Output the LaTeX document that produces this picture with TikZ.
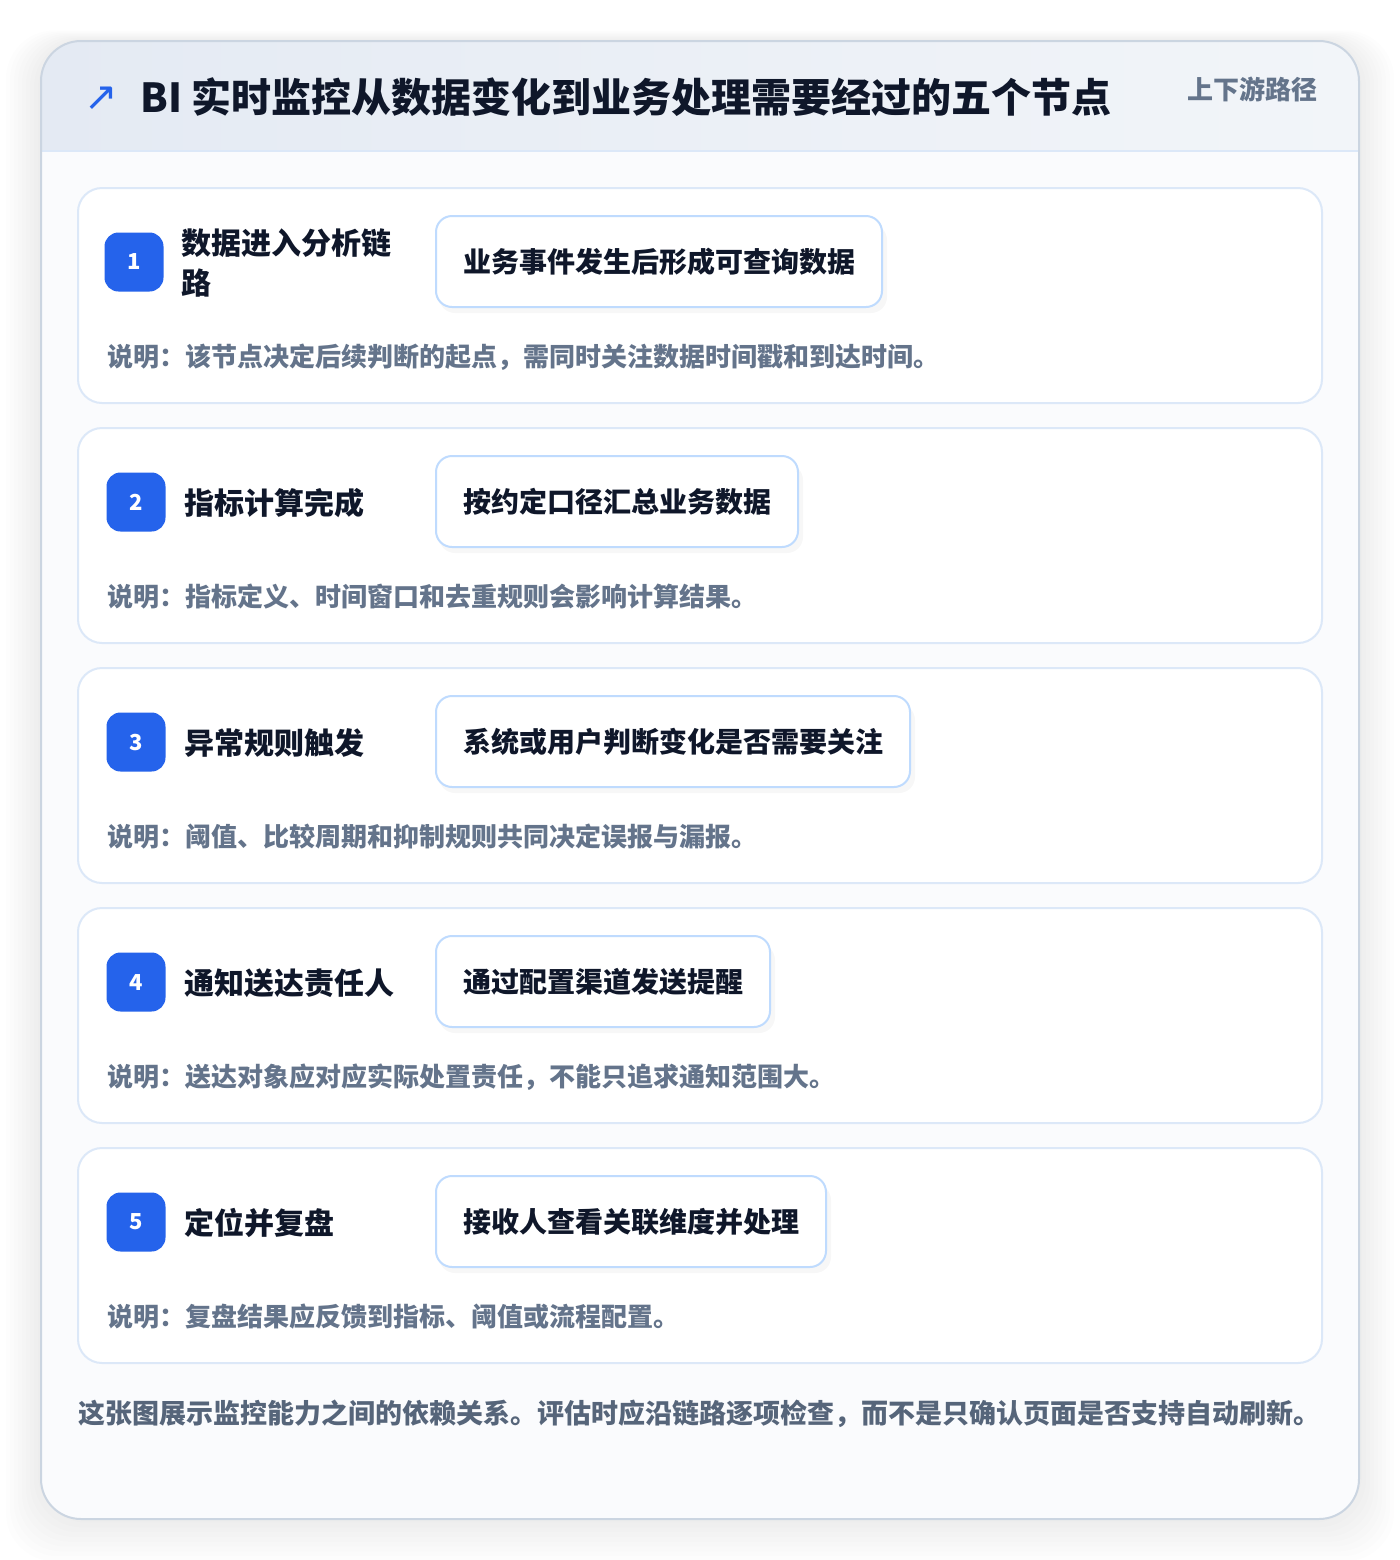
\documentclass[tikz,border=0pt]{standalone}
\usepackage{fontspec}
\setmainfont{Noto Sans CJK SC}
\newfontfamily\symfont{DejaVu Sans}
\usetikzlibrary{positioning}
\usetikzlibrary{shapes}
\usetikzlibrary{calc}
\usepackage{xcolor}

\definecolor{ink}{HTML}{0F172A}
\definecolor{muted}{HTML}{64748B}
\definecolor{foot}{HTML}{56657A}
\definecolor{brand}{HTML}{2563EB}
\definecolor{cardline}{HTML}{DCE8F8}
\definecolor{boxline}{HTML}{BFDBFE}
\definecolor{panelline}{HTML}{CBD5E1}
\definecolor{headL}{HTML}{E4EAF3}
\definecolor{headR}{HTML}{F2F5F9}

\begin{document}
\begin{tikzpicture}[x=0.5pt, y=-0.5pt,
    every node/.style={inner sep=0pt},
    card/.style={draw=cardline, line width=1pt, fill=white, rounded corners=12pt,
        minimum width=622pt, minimum height=107.5pt},
    badge/.style={fill=brand, text=white, rounded corners=7pt, minimum size=29.5pt,
        font=\fontsize{11}{13}\selectfont\bfseries},
    lbl/.style={anchor=west, text=ink, align=left, font=\fontsize{15}{20}\selectfont\bfseries},
    box/.style={anchor=west, draw=boxline, line width=1pt, fill=white, rounded corners=8pt,
        minimum height=45.5pt, inner xsep=13.5pt, text=ink,
        font=\fontsize{14}{17}\selectfont\bfseries},
    note/.style={anchor=west, text=muted, font=\fontsize{13}{16}\selectfont\bfseries}]

    \useasboundingbox (0,0) rectangle (1400,1560);

    % panel shadow
    \foreach \d in {3,7,...,35}
        \fill[black, opacity=0.007, rounded corners=24pt]
            ($(41,41)+(-\d,-0.3*\d)$) rectangle ($(1359,1519)+(\d,1.2*\d)$);

    % panel and header
    \fill[white, rounded corners=20pt] (41,41) rectangle (1359,1519);
    \begin{scope}
        \clip[rounded corners=20pt] (41,41) rectangle (1359,1519);
        \shade[left color=headL, right color=headR] (41,41) rectangle (1359,151);
        \fill[white!60!headR] (41,151) rectangle (1359,1519);
    \end{scope}
    \draw[cardline, line width=1pt] (41,151) -- (1359,151);
    \draw[panelline, line width=1pt, rounded corners=20pt] (41,41) rectangle (1359,1519);

    \node[text=brand, font=\fontsize{20}{22}\selectfont\symfont] (arrow) at (101,99) {↗};
    \node[anchor=west, text=ink, font=\fontsize{20}{24}\selectfont\bfseries] (title) at (140,97)
        {BI 实时监控从数据变化到业务处理需要经过的五个节点};
    \node[anchor=east, text=muted, font=\fontsize{13}{16}\selectfont\bfseries] (path) at (1318,89)
        {上下游路径};

    % step 1
    \node[card] (card1) at (700,295.5) {};
    \node[badge] (b1) at (134,262) {1};
    \node[lbl] (l1) at (181,263) {数据进入分析链\\路};
    \fill[black, opacity=0.03, rounded corners=8pt] (439,224) rectangle (887,313);
    \node[box] (x1) at (435,261.5) {业务事件发生后形成可查询数据};
    \node[note] (n1) at (107,357) {说明：该节点决定后续判断的起点，需同时关注数据时间戳和到达时间。};

    % step 2
    \node[card] (card2) at (700,535.5) {};
    \node[badge] (b2) at (136,502) {2};
    \node[lbl] (l2) at (184,503) {指标计算完成};
    \fill[black, opacity=0.03, rounded corners=8pt] (439,464) rectangle (803,553);
    \node[box] (x2) at (435,501.5) {按约定口径汇总业务数据};
    \node[note] (n2) at (107,597) {说明：指标定义、时间窗口和去重规则会影响计算结果。};

    % step 3
    \node[card] (card3) at (700,775.5) {};
    \node[badge] (b3) at (136,742) {3};
    \node[lbl] (l3) at (184,743) {异常规则触发};
    \fill[black, opacity=0.03, rounded corners=8pt] (439,704) rectangle (915,793);
    \node[box] (x3) at (435,741.5) {系统或用户判断变化是否需要关注};
    \node[note] (n3) at (107,837) {说明：阈值、比较周期和抑制规则共同决定误报与漏报。};

    % step 4
    \node[card] (card4) at (700,1015.5) {};
    \node[badge] (b4) at (136,982) {4};
    \node[lbl] (l4) at (184,983) {通知送达责任人};
    \fill[black, opacity=0.03, rounded corners=8pt] (439,944) rectangle (775,1033);
    \node[box] (x4) at (435,981.5) {通过配置渠道发送提醒};
    \node[note] (n4) at (107,1077) {说明：送达对象应对应实际处置责任，不能只追求通知范围大。};

    % step 5
    \node[card] (card5) at (700,1255.5) {};
    \node[badge] (b5) at (136,1222) {5};
    \node[lbl] (l5) at (184,1223) {定位并复盘};
    \fill[black, opacity=0.03, rounded corners=8pt] (439,1184) rectangle (831,1273);
    \node[box] (x5) at (435,1221.5) {接收人查看关联维度并处理};
    \node[note] (n5) at (107,1317) {说明：复盘结果应反馈到指标、阈值或流程配置。};

    \node[anchor=west, text=foot, font=\fontsize{13.5}{16}\selectfont\bfseries] (summary) at (78,1414)
        {这张图展示监控能力之间的依赖关系。评估时应沿链路逐项检查，而不是只确认页面是否支持自动刷新。};
\end{tikzpicture}
\end{document}
